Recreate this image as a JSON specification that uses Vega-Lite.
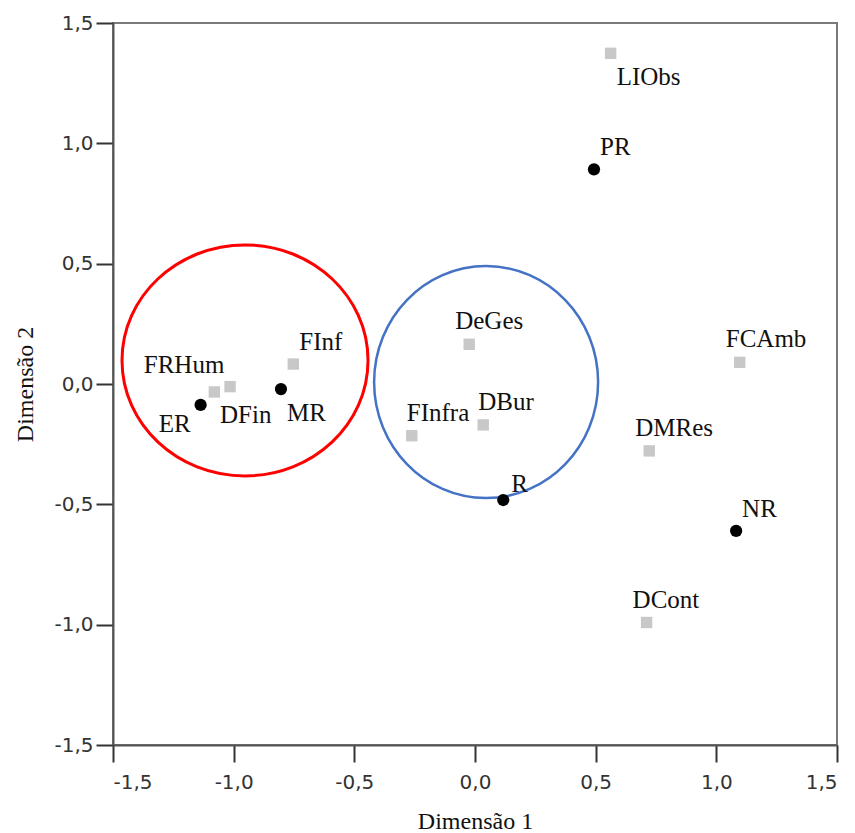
{
  "$schema": "https://vega.github.io/schema/vega-lite/v6.json",
  "width": 724,
  "height": 722,
  "autosize": {"type": "none"},
  "padding": {"left": 113, "top": 23, "right": 18, "bottom": 88},
  "background": "white",
  "config": {
    "view": {"stroke": "#7a7a7a", "strokeWidth": 2},
    "axis": {
      "grid": false,
      "domainColor": "#555555",
      "domainWidth": 2,
      "tickColor": "#333333",
      "tickWidth": 2,
      "tickSize": 17,
      "labelFont": "DejaVu Sans",
      "labelFontSize": 20,
      "labelColor": "#333333",
      "titleFont": "Liberation Serif",
      "titleFontSize": 24,
      "titleFontWeight": "normal",
      "titleColor": "#111111"
    }
  },
  "datasets": {
    "points": [
      {"label": "LIObs", "x": 0.562, "y": 1.374, "type": "col", "pos": "br"},
      {"label": "PR", "x": 0.493, "y": 0.892, "type": "row", "pos": "ar"},
      {"label": "FCAmb", "x": 1.097, "y": 0.090, "type": "col", "pos": "al"},
      {"label": "DMRes", "x": 0.722, "y": -0.278, "type": "col", "pos": "al"},
      {"label": "NR", "x": 1.082, "y": -0.610, "type": "row", "pos": "ar"},
      {"label": "DCont", "x": 0.711, "y": -0.991, "type": "col", "pos": "al"},
      {"label": "DeGes", "x": -0.024, "y": 0.165, "type": "col", "pos": "al"},
      {"label": "DBur", "x": 0.034, "y": -0.170, "type": "col", "pos": "a"},
      {"label": "FInfra", "x": -0.262, "y": -0.215, "type": "col", "pos": "a"},
      {"label": "R", "x": 0.117, "y": -0.482, "type": "row", "pos": "r"},
      {"label": "FInf", "x": -0.753, "y": 0.083, "type": "col", "pos": "ar"},
      {"label": "FRHum", "x": -1.080, "y": -0.033, "type": "col", "pos": "la"},
      {"label": "DFin", "x": -1.015, "y": -0.011, "type": "col", "pos": "bl"},
      {"label": "MR", "x": -0.804, "y": -0.021, "type": "row", "pos": "br"},
      {"label": "ER", "x": -1.137, "y": -0.087, "type": "row", "pos": "lb"}
    ],
    "groups": [
      {"group": "red", "x": -0.953, "y": 0.098},
      {"group": "blue", "x": 0.046, "y": 0.008}
    ]
  },
  "encoding": {
    "x": {
      "field": "x", "type": "quantitative",
      "scale": {"domain": [-1.5, 1.5], "nice": false, "zero": false},
      "axis": {
        "title": "Dimensão 1",
        "values": [-1.5, -1, -0.5, 0, 0.5, 1, 1.5],
        "labelExpr": "replace(replace(format(datum.value, '.1f'), '.', ','), '−', '-')",
        "labelPadding": 10,
        "labelBaseline": "top",
        "titleX": 362,
        "titleY": 83,
        "titleAlign": "center",
        "titleBaseline": "alphabetic"
      }
    },
    "y": {
      "field": "y", "type": "quantitative",
      "scale": {"domain": [-1.5, 1.5], "nice": false, "zero": false},
      "axis": {
        "title": "Dimensão 2",
        "values": [-1.5, -1, -0.5, 0, 0.5, 1, 1.5],
        "labelExpr": "replace(replace(format(datum.value, '.1f'), '.', ','), '−', '-')",
        "labelPadding": 3,
        "titleX": -88,
        "titleY": 361,
        "titleAlign": "center",
        "titleBaseline": "middle",
        "titleAngle": -90
      }
    }
  },
  "layer": [
    {
      "data": {"name": "groups"},
      "transform": [{"filter": "datum.group === 'red'"}],
      "mark": {"type": "point", "filled": false, "shape": "M -1 0 A 1 0.939 0 1 1 1 0 A 1 0.939 0 1 1 -1 0 Z", "size": 60516, "stroke": "#ff0000", "strokeWidth": 3, "opacity": 1}
    },
    {
      "data": {"name": "groups"},
      "transform": [{"filter": "datum.group === 'blue'"}],
      "mark": {"type": "point", "filled": false, "shape": "M -0.9655 0 A 0.9655 1 0 1 1 0.9655 0 A 0.9655 1 0 1 1 -0.9655 0 Z", "size": 53824, "stroke": "#4472c4", "strokeWidth": 2.5, "opacity": 1}
    },
    {
      "data": {"name": "points"},
      "transform": [{"filter": "datum.type === 'col'"}],
      "mark": {"type": "point", "shape": "square", "filled": true, "size": 130, "color": "#c8c8c8", "opacity": 1}
    },
    {
      "data": {"name": "points"},
      "transform": [{"filter": "datum.type === 'row'"}],
      "mark": {"type": "point", "shape": "circle", "filled": true, "size": 150, "color": "#000000", "opacity": 1}
    },
    {
      "data": {"name": "points"},
      "transform": [{"filter": "datum.pos === 'ar'"}],
      "mark": {"type": "text", "align": "left", "baseline": "alphabetic", "dx": 6, "dy": -14, "font": "Liberation Serif", "fontSize": 25, "color": "#111111"},
      "encoding": {"text": {"field": "label"}}
    },
    {
      "data": {"name": "points"},
      "transform": [{"filter": "datum.pos === 'r'"}],
      "mark": {"type": "text", "align": "left", "baseline": "alphabetic", "dx": 8, "dy": -8, "font": "Liberation Serif", "fontSize": 25, "color": "#111111"},
      "encoding": {"text": {"field": "label"}}
    },
    {
      "data": {"name": "points"},
      "transform": [{"filter": "datum.pos === 'a'"}],
      "mark": {"type": "text", "align": "left", "baseline": "alphabetic", "dx": -5, "dy": -15, "font": "Liberation Serif", "fontSize": 25, "color": "#111111"},
      "encoding": {"text": {"field": "label"}}
    },
    {
      "data": {"name": "points"},
      "transform": [{"filter": "datum.pos === 'al'"}],
      "mark": {"type": "text", "align": "left", "baseline": "alphabetic", "dx": -14, "dy": -15, "font": "Liberation Serif", "fontSize": 25, "color": "#111111"},
      "encoding": {"text": {"field": "label"}}
    },
    {
      "data": {"name": "points"},
      "transform": [{"filter": "datum.pos === 'br'"}],
      "mark": {"type": "text", "align": "left", "baseline": "alphabetic", "dx": 6, "dy": 32, "font": "Liberation Serif", "fontSize": 25, "color": "#111111"},
      "encoding": {"text": {"field": "label"}}
    },
    {
      "data": {"name": "points"},
      "transform": [{"filter": "datum.pos === 'bl'"}],
      "mark": {"type": "text", "align": "left", "baseline": "alphabetic", "dx": -10, "dy": 36, "font": "Liberation Serif", "fontSize": 25, "color": "#111111"},
      "encoding": {"text": {"field": "label"}}
    },
    {
      "data": {"name": "points"},
      "transform": [{"filter": "datum.pos === 'lb'"}],
      "mark": {"type": "text", "align": "right", "baseline": "alphabetic", "dx": -10, "dy": 27, "font": "Liberation Serif", "fontSize": 25, "color": "#111111"},
      "encoding": {"text": {"field": "label"}}
    },
    {
      "data": {"name": "points"},
      "transform": [{"filter": "datum.pos === 'la'"}],
      "mark": {"type": "text", "align": "right", "baseline": "alphabetic", "dx": 10, "dy": -19, "font": "Liberation Serif", "fontSize": 25, "color": "#111111"},
      "encoding": {"text": {"field": "label"}}
    }
  ]
}
